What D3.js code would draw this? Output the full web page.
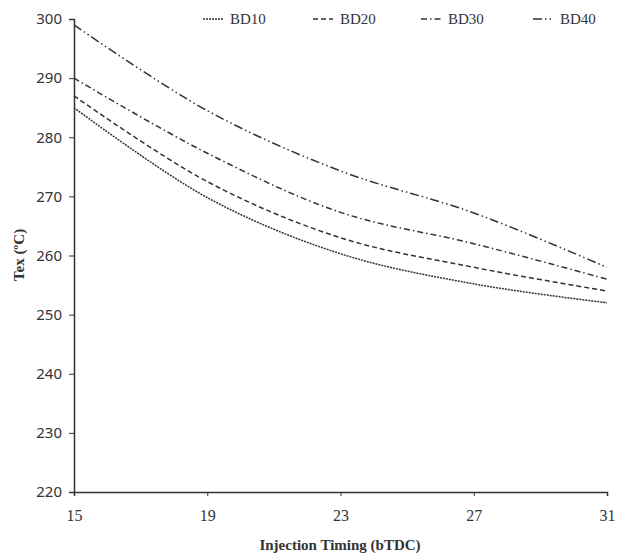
<!DOCTYPE html>
<html>
<head>
<meta charset="utf-8">
<script src="https://cdn.jsdelivr.net/npm/d3@7"></script>
<style>
  body { margin: 0; background: #fff; }
</style>
</head>
<body>
<div id="chart"></div>
<script>
// injection timing (bTDC)
const timing = [15, 19, 23, 27, 31];

// exhaust temperature per blend
const bd10 = [285, 269.8, 260.3, 255.2, 252];
const bd20 = [287, 272.5, 263, 258, 254];
const bd30 = [290, 277.3, 267.3, 262, 256];
const bd40 = [299, 284.5, 274.3, 267.2, 258];

const seriesNames = ["BD10", "BD20", "BD30", "BD40"];
const yTicks = [220, 230, 240, 250, 260, 270, 280, 290, 300];
const xTicks = [15, 19, 23, 27, 31];

const dashes = ["2,1", "5,3", "6,3,1.5,3", "9,3,1.5,3,1.5,3"];

const width = 620, height = 557;
const margin = { left: 74, right: 13, top: 19, bottom: 65 };
const ink = "#333";

const svg = d3.select("#chart").append("svg")
    .attr("width", width)
    .attr("height", height);

const x = d3.scaleLinear().domain([15, 31]).range([margin.left, width - margin.right]);
const y = d3.scaleLinear().domain([220, 300]).range([height - margin.bottom, margin.top]);

const series = [bd10, bd20, bd30, bd40].map((vals, i) => ({
    name: seriesNames[i],
    dash: dashes[i],
    points: vals.map((v, j) => [timing[j], v])
}));

const line = d3.line()
    .x(d => x(d[0]))
    .y(d => y(d[1]))
    .curve(d3.curveCatmullRom.alpha(0.5));

svg.append("g")
    .selectAll("path")
    .data(series)
    .join("path")
    .attr("fill", "none")
    .attr("stroke", ink)
    .attr("stroke-width", 1.5)
    .attr("stroke-dasharray", d => d.dash)
    .attr("d", d => line(d.points));

// y axis
const yAxis = svg.append("g")
    .attr("transform", `translate(${margin.left},0)`)
    .call(d3.axisLeft(y).tickValues(yTicks).tickSize(5).tickPadding(7));
yAxis.select(".domain").attr("stroke", ink).attr("stroke-width", 1.5);
yAxis.selectAll(".tick line").attr("stroke", ink);
yAxis.selectAll(".tick text")
    .attr("fill", "#333")
    .style("font-family", "'Noto Sans', sans-serif")
    .style("font-size", "15px");

// x axis
const xAxis = svg.append("g")
    .attr("transform", `translate(0,${height - margin.bottom})`)
    .call(d3.axisBottom(x).tickValues(xTicks).tickSize(4).tickPadding(14));
xAxis.select(".domain").attr("stroke", ink).attr("stroke-width", 1.5);
xAxis.selectAll(".tick line").attr("stroke", ink);
xAxis.selectAll(".tick text")
    .attr("fill", "#333")
    .style("font-family", "'Liberation Serif', serif")
    .style("font-size", "16px");

// axis titles
svg.append("text")
    .attr("x", 340)
    .attr("y", 550)
    .attr("text-anchor", "middle")
    .style("font-family", "'Liberation Serif', serif")
    .style("font-weight", "bold")
    .style("font-size", "15px")
    .attr("fill", "#333")
    .text("Injection Timing (bTDC)");

svg.append("text")
    .attr("transform", "translate(24,255) rotate(-90)")
    .attr("text-anchor", "middle")
    .style("font-family", "'Liberation Serif', serif")
    .style("font-weight", "bold")
    .style("font-size", "15px")
    .attr("fill", "#333")
    .text("Tex (\u00BAC)");

// legend
const legendX = [203, 313, 421, 533];
const legend = svg.append("g")
    .selectAll("g")
    .data(series)
    .join("g")
    .attr("transform", (d, i) => `translate(${legendX[i]},19)`);

legend.append("line")
    .attr("x1", 0).attr("x2", 20)
    .attr("stroke", ink)
    .attr("stroke-width", 1.5)
    .attr("stroke-dasharray", d => d.dash);

legend.append("text")
    .attr("x", 27)
    .attr("dy", "0.35em")
    .style("font-family", "'Liberation Serif', serif")
    .style("font-size", "15px")
    .attr("fill", "#333")
    .text(d => d.name);
</script>
</body>
</html>
